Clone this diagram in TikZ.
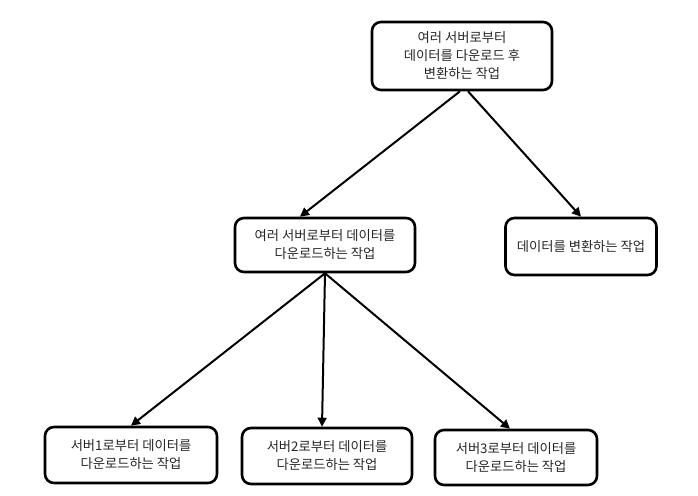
\documentclass[tikz,border=0pt]{standalone}
\usepackage{fontspec}
\newfontfamily\kor{Noto Sans CJK KR}
\usetikzlibrary{arrows.meta}
\begin{document}
\begin{tikzpicture}[x=1pt,y=-1pt,
  box/.style={draw,line width=2.6pt,rounded corners=9pt,align=center,inner sep=0pt,
    font=\kor\fontsize{13.3}{18}\selectfont,text=black!85},
  arr/.style={line width=2pt,-{Triangle[length=9pt,width=9pt]}}]
\useasboundingbox (0,0) rectangle (698,495);
\node[box,minimum width=180pt,minimum height=68pt] (top) at (462,56) {여러 서버로부터\\데이터를 다운로드 후\\변환하는 작업};
\node[box,minimum width=180pt,minimum height=54pt] (mid) at (325,245) {여러 서버로부터 데이터를\\다운로드하는 작업};
\node[box,minimum width=151pt,minimum height=57pt] (conv) at (581,246.5) {데이터를 변환하는 작업};
\node[box,minimum width=172pt,minimum height=56pt] (s1) at (131,455) {서버1로부터 데이터를\\다운로드하는 작업};
\node[box,minimum width=170pt,minimum height=56pt] (s2) at (327,456) {서버2로부터 데이터를\\다운로드하는 작업};
\node[box,minimum width=162pt,minimum height=55pt] (s3) at (516,457.5) {서버3로부터 데이터를\\다운로드하는 작업};
\draw[arr] ([xshift=-2pt]top.south) -- ([xshift=-25pt]mid.north);
\draw[arr] ([xshift=6pt]top.south) -- (conv.north);
\draw[arr] (mid.south) -- ([xshift=0pt]s1.north);
\draw[arr] (mid.south) -- ([xshift=-5pt]s2.north);
\draw[arr] (mid.south) -- ([xshift=-6pt]s3.north);
\end{tikzpicture}
\end{document}
